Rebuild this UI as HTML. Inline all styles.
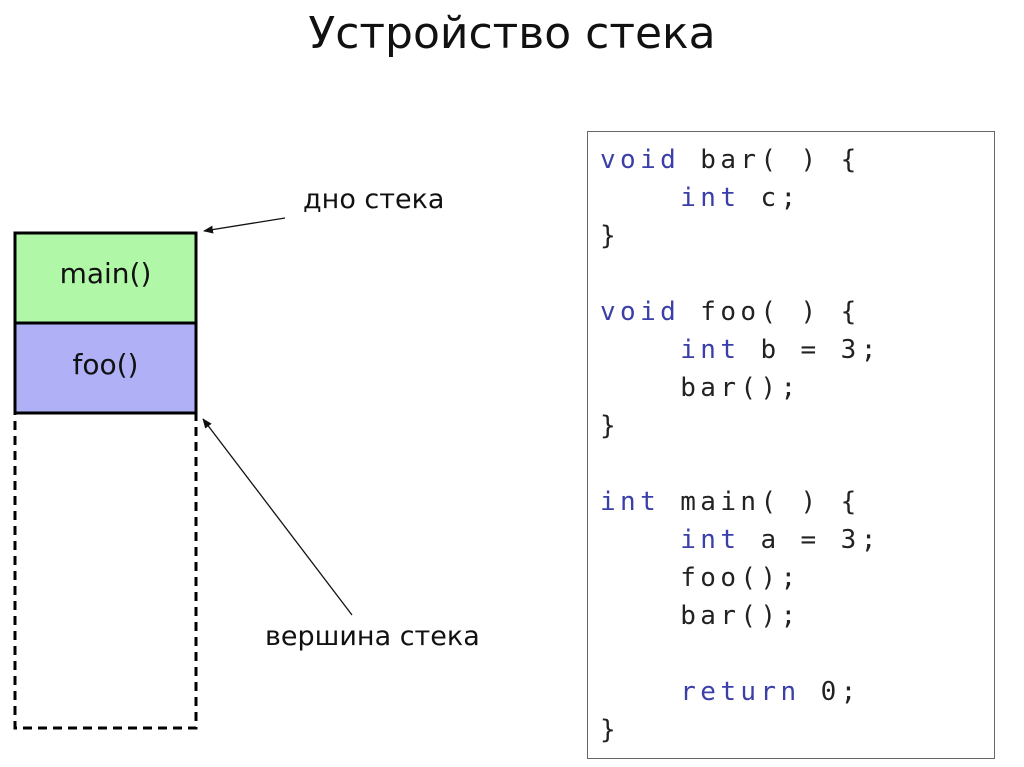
<!DOCTYPE html>
<html><head><meta charset="utf-8"><style>
body{margin:0;width:1024px;height:767px;background:#fff;position:relative;overflow:hidden;font-family:"DejaVu Sans","Liberation Sans",sans-serif}
.t{position:absolute;white-space:nowrap}
.code{position:absolute;left:587px;top:131px;width:408px;height:628px;border:1.5px solid #666;box-sizing:border-box}
.ln{position:absolute;left:12px;font-family:"DejaVu Sans Mono","Liberation Mono",monospace;font-size:26px;letter-spacing:4.4px;color:#222;white-space:pre;line-height:38px}
.k{color:#3b3fa8}
</style></head><body>
<div class="t" style="left:0;width:1024px;text-align:center;top:8px;font-size:44px;color:#111">Устройство стека</div>
<svg width="1024" height="767" style="position:absolute;left:0;top:0">
<defs><marker id="a" markerWidth="10" markerHeight="8" refX="9" refY="4" orient="auto" markerUnits="userSpaceOnUse"><path d="M0,0 L10,4 L0,8 z" fill="#111"/></marker></defs>
<rect x="15" y="233" width="181" height="90" fill="#b0f7a8" stroke="#000" stroke-width="3"/>
<rect x="15" y="323" width="181" height="90" fill="#b0b0f7" stroke="#000" stroke-width="3"/>
<rect x="15" y="413" width="181" height="315" fill="none" stroke="#000" stroke-width="3" stroke-dasharray="9,6"/>
<line x1="285" y1="218" x2="204" y2="231" stroke="#111" stroke-width="1.3" marker-end="url(#a)"/>
<line x1="352" y1="615" x2="203" y2="419" stroke="#111" stroke-width="1.3" marker-end="url(#a)"/>
</svg>
<div class="t" style="left:15px;width:181px;text-align:center;top:257px;font-size:28px;color:#111">main()</div>
<div class="t" style="left:15px;width:181px;text-align:center;top:348px;font-size:28px;color:#111">foo()</div>
<div class="t" style="left:303px;top:184px;font-size:27px;color:#111">дно стека</div>
<div class="t" style="left:265px;top:621px;font-size:27px;color:#111">вершина стека</div>
<div class="code">
<div class="ln" style="top:9px"><span class="k">void</span> bar( ) {</div>
<div class="ln" style="top:47px">    <span class="k">int</span> c;</div>
<div class="ln" style="top:85px">}</div>
<div class="ln" style="top:161px"><span class="k">void</span> foo( ) {</div>
<div class="ln" style="top:199px">    <span class="k">int</span> b = 3;</div>
<div class="ln" style="top:237px">    bar();</div>
<div class="ln" style="top:275px">}</div>
<div class="ln" style="top:351px"><span class="k">int</span> main( ) {</div>
<div class="ln" style="top:389px">    <span class="k">int</span> a = 3;</div>
<div class="ln" style="top:427px">    foo();</div>
<div class="ln" style="top:465px">    bar();</div>
<div class="ln" style="top:541px">    <span class="k">return</span> 0;</div>
<div class="ln" style="top:579px">}</div>
</div>
</body></html>
